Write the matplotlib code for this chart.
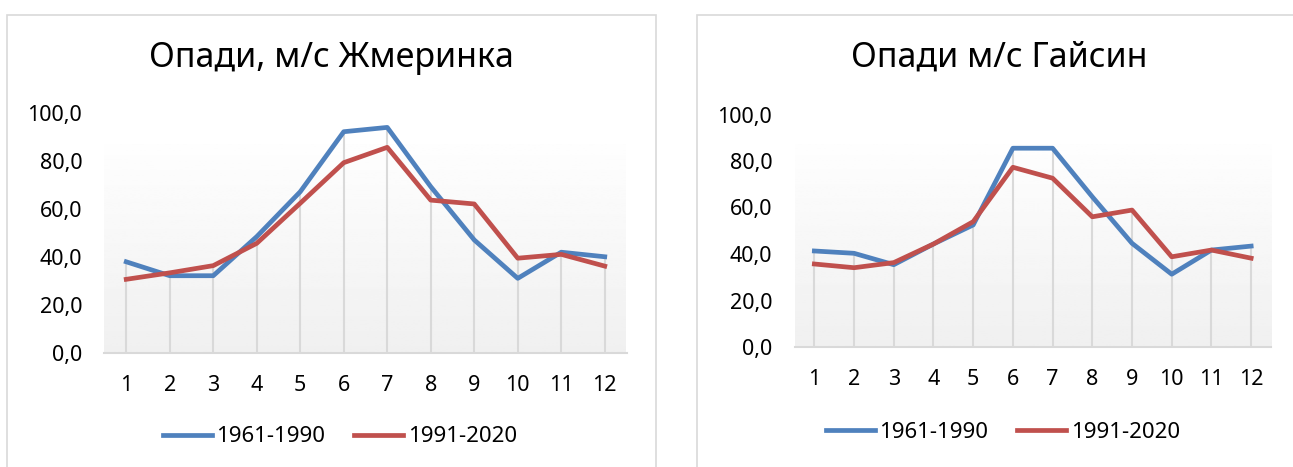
import numpy as np
import matplotlib.pyplot as plt
from matplotlib.patches import Rectangle

plt.rcParams['font.family'] = ['Noto Sans', 'DejaVu Sans']

# дані
misyaci = [1, 2, 3, 4, 5, 6, 7, 8, 9, 10, 11, 12]
zhm_1961 = [38.0, 32.2, 32.2, 48.5, 67.2, 92.2, 94.0, 69.3, 47.1, 31.1, 42.0, 40.1]
zhm_1991 = [30.7, 33.4, 36.4, 45.7, 62.4, 79.3, 85.7, 63.7, 62.1, 39.5, 41.1, 36.2]
gai_1961 = [41.3, 40.3, 35.4, 44.3, 52.5, 85.5, 85.5, 64.6, 44.6, 31.3, 41.7, 43.4]
gai_1991 = [35.7, 34.1, 36.3, 44.3, 53.9, 77.3, 72.6, 56.0, 58.9, 38.8, 41.7, 38.2]
yticks = [0, 20, 40, 60, 80, 100]
ytick_labels = ['0,0', '20,0', '40,0', '60,0', '80,0', '100,0']
periody = ['1961-1990', '1991-2020']

SYNIY = '#4F81BD'
CHERV = '#C0504D'
SIRYY = '#D9D9D9'

W, H = 1293, 467
fig = plt.figure(figsize=(W / 100, H / 100), dpi=100)

def px(x0, y0, x1, y1):
    # піксельний прямокутник -> координати фігури
    return [x0 / W, 1 - y1 / H, (x1 - x0) / W, (y1 - y0) / H]

# рамки діаграм
for (x0, y0, x1, y1) in [(7, 15, 656, 480), (697, 15, 1300, 480)]:
    fig.patches.append(Rectangle((x0 / W, 1 - y1 / H), (x1 - x0) / W, (y1 - y0) / H,
                                 transform=fig.transFigure, fill=False,
                                 edgecolor=SIRYY, lw=1.2))

def grafik(rect, s1, s2, nazva, tx, ty, lx, ly):
    ax = fig.add_axes(rect)
    grad = np.linspace(0.94, 0.995, 100).reshape(-1, 1)
    ax.imshow(grad, extent=(0.5, 12.5, 0, 87), origin='lower', cmap='gray',
              vmin=0, vmax=1, aspect='auto', zorder=0)
    ax.vlines(misyaci, 0, np.maximum(s1, s2), color=SIRYY, lw=1.5, zorder=1)
    ax.plot(misyaci, s1, color=SYNIY, lw=3.4, label=periody[0], zorder=3)
    ax.plot(misyaci, s2, color=CHERV, lw=3.4, label=periody[1], zorder=3)
    ax.set_xlim(0.5, 12.5)
    ax.set_ylim(0, 100)
    ax.set_xticks(misyaci)
    ax.set_yticks(yticks)
    ax.set_yticklabels(ytick_labels)
    ax.tick_params(length=0, labelsize=15.5, colors='black')
    ax.tick_params(axis='y', pad=16)
    ax.tick_params(axis='x', pad=16)
    for s in ['top', 'right', 'left']:
        ax.spines[s].set_visible(False)
    ax.spines['bottom'].set_color(SIRYY)
    ax.spines['bottom'].set_linewidth(1.5)
    ax.patch.set_alpha(0)
    fig.text(tx / W, 1 - ty / H, nazva, fontsize=24.5, ha='center', va='center')
    ax.legend(loc='center', bbox_to_anchor=(lx / W, 1 - ly / H),
              bbox_transform=fig.transFigure, ncol=2, frameon=False,
              fontsize=16, handlelength=2.2, handletextpad=0.2,
              columnspacing=1.3)
    return ax

grafik(px(104.5, 113, 626.5, 353), zhm_1961, zhm_1991,
       'Опади, м/с Жмеринка', 331, 58, 340, 437)
grafik(px(794.5, 114.5, 1271, 347), gai_1961, gai_1991,
       'Опади м/с Гайсин', 999, 58, 1003, 432)

fig.savefig('out.png', dpi=100)
